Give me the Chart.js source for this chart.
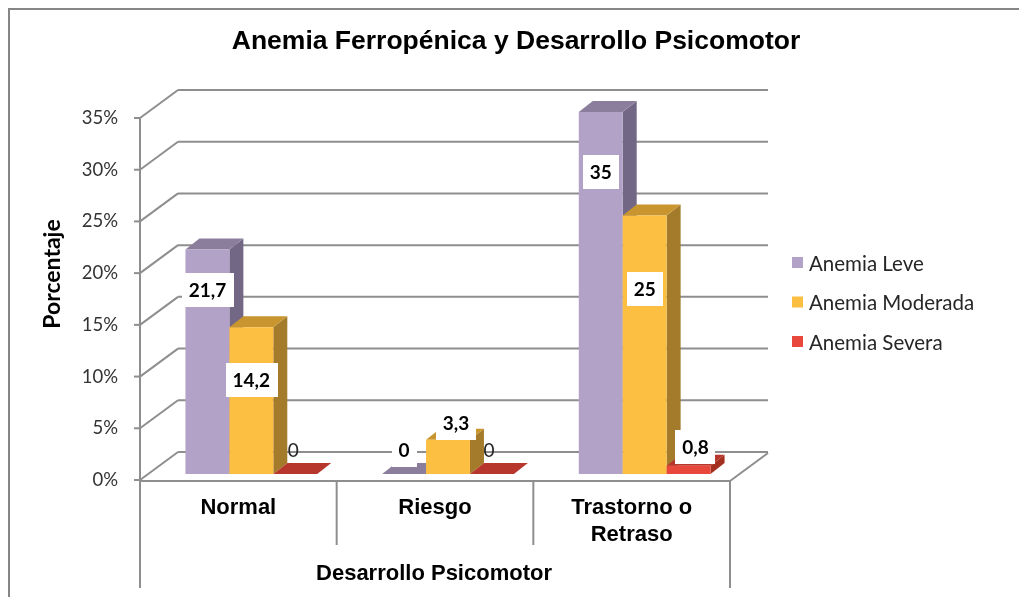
<!DOCTYPE html>
<html>
<head>
<meta charset="utf-8">
<title>Anemia Ferropénica y Desarrollo Psicomotor</title>
<script src="https://cdn.jsdelivr.net/npm/chart.js@4"></script>
<style>
  html, body { margin: 0; padding: 0; background: #fff; }
  canvas { display: block; }
</style>
</head>
<body>
<canvas id="chart" width="1019" height="597"></canvas>
<script>
// data
const categories = [["Normal"], ["Riesgo"], ["Trastorno o", "Retraso"]];
const seriesNames = ["Anemia Leve", "Anemia Moderada", "Anemia Severa"];
const anemiaLeve = [21.7, 0, 35];
const anemiaModerada = [14.2, 3.3, 25];
const anemiaSevera = [0, 0, 0.8];
const yTicks = [0, 5, 10, 15, 20, 25, 30, 35];

// where each data label sits (in % units above the bar base) and x nudge
const labelLevel = [[17.8, 2.3, 29.2], [9.1, 4.9, 17.9], [2.3, 2.3, 2.6]];
const labelNudge = [[0, 0, 0], [0, 8, 0], [-2, -3, 7]];
const labelBoxed = [[true, true, true], [true, true, true], [false, false, true]];

const colors = [
  { front: "#B3A2C7", top: "#8B7E9C", side: "#736786" },
  { front: "#FCBF42", top: "#C8952F", side: "#A47B2A" },
  { front: "#E8473B", top: "#B8372C", side: "#A3301F" }
];

// 3d geometry
const WALL_DX = 38, WALL_DY = -28;
const SHIFT_X = 13, SHIFT_Y = -6;
const BAR_DX = 14, BAR_DY = -11;
const GRID = "#8E8E8E";

function poly(ctx, pts) {
  ctx.beginPath();
  ctx.moveTo(pts[0][0], pts[0][1]);
  for (let i = 1; i < pts.length; i++) ctx.lineTo(pts[i][0], pts[i][1]);
  ctx.closePath();
  ctx.fill();
}

function line(ctx, x1, y1, x2, y2) {
  ctx.beginPath();
  ctx.moveTo(x1, y1);
  ctx.lineTo(x2, y2);
  ctx.stroke();
}

const fmt = v => String(v).replace(".", ",");

function drawLabels(chart) {
  const ctx = chart.ctx;
  const y = chart.scales.y;
  ctx.save();
  ctx.textAlign = "center";
  ctx.textBaseline = "middle";
  chart.data.datasets.forEach((ds, i) => {
    chart.getDatasetMeta(i).data.forEach((el, j) => {
      const txt = fmt(ds.data[j]);
      const cx = el.x + SHIFT_X + labelNudge[i][j];
      const cy = y.getPixelForValue(labelLevel[i][j]) + SHIFT_Y;
      if (labelBoxed[i][j]) {
        ctx.font = "bold 19px Lato";
        const w = ctx.measureText(txt).width + 14;
        ctx.fillStyle = "#fff";
        ctx.fillRect(Math.round(cx - w / 2), Math.round(cy - 17), Math.round(w), 34);
        ctx.fillStyle = "#000";
      } else {
        ctx.font = "19px Lato";
        ctx.fillStyle = "#262626";
      }
      ctx.fillText(txt, cx, cy + 1);
    });
  });
  ctx.restore();
}

const threeD = {
  id: "threeD",
  beforeDatasetsDraw(chart) {
    const ctx = chart.ctx;
    const x = chart.scales.x, y = chart.scales.y;
    const area = chart.chartArea;
    ctx.save();
    ctx.strokeStyle = GRID;
    ctx.lineWidth = 2;

    // back wall grid + side wall diagonals
    y.ticks.forEach(t => {
      const py = y.getPixelForValue(t.value);
      line(ctx, area.left - 6, py, area.left, py);
      line(ctx, area.left, py, area.left + WALL_DX, py + WALL_DY);
      line(ctx, area.left + WALL_DX, py + WALL_DY, area.right + WALL_DX, py + WALL_DY);
    });
    line(ctx, area.left, area.top, area.left, area.bottom);

    // floor edges
    line(ctx, area.left, area.bottom + 1, area.right, area.bottom + 1);
    line(ctx, area.right, area.bottom + 1, area.right + WALL_DX, area.bottom + 1 + WALL_DY);

    // lines under the category axis
    line(ctx, area.left, area.bottom, area.left, 588);
    line(ctx, area.right, area.bottom, area.right, 588);
    for (let j = 0; j < categories.length - 1; j++) {
      const bx = (x.getPixelForValue(j) + x.getPixelForValue(j + 1)) / 2;
      line(ctx, bx, area.bottom, bx, 545);
    }

    // bars: category by category, series left to right
    for (let j = 0; j < categories.length; j++) {
      chart.data.datasets.forEach((ds, i) => {
        const el = chart.getDatasetMeta(i).data[j];
        const c = colors[i];
        const x0 = el.x - el.width / 2 + SHIFT_X;
        const x1 = el.x + el.width / 2 + SHIFT_X;
        const yb = el.base + SHIFT_Y;
        const yt = el.y + SHIFT_Y;
        ctx.fillStyle = c.side;
        poly(ctx, [[x1, yt], [x1 + BAR_DX, yt + BAR_DY], [x1 + BAR_DX, yb + BAR_DY], [x1, yb]]);
        ctx.fillStyle = c.top;
        poly(ctx, [[x0, yt], [x0 + BAR_DX, yt + BAR_DY], [x1 + BAR_DX, yt + BAR_DY], [x1, yt]]);
        ctx.save();
        ctx.translate(SHIFT_X, SHIFT_Y);
        el.draw(ctx);
        ctx.restore();
      });
    }
    ctx.restore();
    drawLabels(chart);
    return false;
  },
  afterDraw(chart) {
    const ctx = chart.ctx;
    ctx.save();
    // outer frame
    ctx.strokeStyle = "#868686";
    ctx.lineWidth = 2;
    ctx.strokeRect(9, 9, 1200, 800);

    // title
    ctx.fillStyle = "#000";
    ctx.textAlign = "center";
    ctx.textBaseline = "middle";
    ctx.font = "bold 26.5px 'Liberation Sans'";
    ctx.fillText("Anemia Ferropénica y Desarrollo Psicomotor", 516, 42);

    // axis titles
    ctx.font = "bold 22px 'Liberation Sans'";
    ctx.fillText("Desarrollo Psicomotor", 434, 574);
    ctx.save();
    ctx.translate(53, 274);
    ctx.rotate(-Math.PI / 2);
    ctx.font = "bold 23px Lato";
    ctx.fillText("Porcentaje", 0, 0);
    ctx.restore();

    // legend
    ctx.textAlign = "left";
    ctx.font = "20.5px Lato";
    seriesNames.forEach((name, i) => {
      const ly = 263 + i * 39.5;
      ctx.fillStyle = colors[i].front;
      ctx.fillRect(792, ly - 6, 11, 11);
      ctx.fillStyle = "#262626";
      ctx.fillText(name, 809, ly + 1);
    });
    ctx.restore();
  }
};

new Chart(document.getElementById("chart"), {
  type: "bar",
  data: {
    labels: categories,
    datasets: [
      { label: seriesNames[0], data: anemiaLeve, backgroundColor: colors[0].front },
      { label: seriesNames[1], data: anemiaModerada, backgroundColor: colors[1].front },
      { label: seriesNames[2], data: anemiaSevera, backgroundColor: colors[2].front }
    ]
  },
  options: {
    responsive: false,
    animation: false,
    layout: { padding: { top: 118, right: 289, left: 0, bottom: 0 } },
    datasets: { bar: { categoryPercentage: 0.67, barPercentage: 1, borderWidth: 0 } },
    plugins: { legend: { display: false }, title: { display: false }, tooltip: { enabled: false } },
    scales: {
      x: {
        grid: { display: false, drawTicks: false },
        border: { display: false },
        ticks: {
          color: "#000",
          padding: 15,
          maxRotation: 0,
          autoSkip: false,
          font: { family: "'Liberation Sans'", size: 22, weight: "bold", lineHeight: 1.2 }
        },
        afterFit(scale) { scale.height = 117; }
      },
      y: {
        min: yTicks[0],
        max: yTicks[yTicks.length - 1],
        grid: { display: false, drawTicks: false },
        border: { display: false },
        ticks: {
          stepSize: yTicks[1] - yTicks[0],
          color: "#333",
          padding: 22,
          font: { family: "Lato", size: 18.5 },
          callback: v => v + "%"
        },
        afterFit(scale) { scale.width = 140; }
      }
    }
  },
  plugins: [threeD]
});
</script>
</body>
</html>
